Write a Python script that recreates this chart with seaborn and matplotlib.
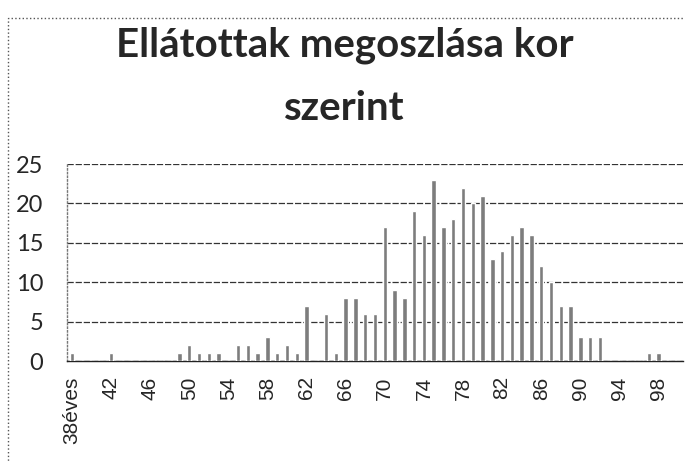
import matplotlib
matplotlib.use("Agg")
import matplotlib.pyplot as plt
import seaborn as sns
import pandas as pd
import numpy as np
from matplotlib.patches import Rectangle

# ---- data ----
ages = ["38éves"] + [str(a) for a in range(39, 101)]
counts = [1, 0, 0, 0, 1, 0, 0, 0, 0, 0,      # 38-47
          0, 1, 2, 1, 1, 1, 0, 2, 2, 1,      # 48-57
          3, 1, 2, 1, 7, 0, 6, 1, 8, 8,      # 58-67
          6, 6, 17, 9, 8, 19, 16, 23, 17, 18,  # 68-77
          22, 20, 21, 13, 14, 16, 17, 16, 12, 10,  # 78-87
          7, 7, 3, 3, 3, 0, 0, 0, 0, 1,      # 88-97
          1, 0, 0]                           # 98-100
yticks = [0, 5, 10, 15, 20, 25]
title = "Ellátottak megoszlása kor\nszerint"

df = pd.DataFrame({"kor": ages, "fo": counts})

sns.set_style("white")
plt.rcParams["font.family"] = ["Lato", "DejaVu Sans"]

fig = plt.figure(figsize=(6.85, 4.63), dpi=100)
ax = fig.add_axes([67 / 685, 1 - 361 / 463, 616 / 685, (361 - 164) / 463])

sns.barplot(data=df, x="kor", y="fo", order=ages, color="#7d7d7d",
            width=0.45, saturation=1, ax=ax, zorder=3)

ax.set_ylim(0, 25)
ax.set_xlim(-0.5, len(ages) - 0.5)
ax.set_yticks(yticks)
ax.set_yticklabels([str(v) for v in yticks], fontsize=17, family=["Lato", "DejaVu Sans"])
ax.yaxis.grid(True, color="#333333", linewidth=0.9, linestyle=(0, (5, 1.5)), zorder=0)
ax.set_axisbelow(True)

pos = list(range(0, len(ages), 4))
ax.set_xticks(pos)
ax.set_xticklabels([ages[i] for i in pos], rotation=90, fontsize=15,
                   family=["Liberation Sans", "DejaVu Sans"], va="top")
ax.tick_params(axis="x", length=0, pad=11)
ax.set_xticks(np.arange(-0.5, len(ages), 1), minor=True)
ax.tick_params(axis="x", which="minor", length=5, width=0.6, color="#555555", direction="out")
ax.tick_params(axis="y", length=0, pad=17)

ax.set_xlabel("")
ax.set_ylabel("")
for s in ["top", "right"]:
    ax.spines[s].set_visible(False)
ax.spines["left"].set_color("#777777")
ax.spines["left"].set_linestyle(":")
ax.spines["left"].set_linewidth(1.0)
ax.spines["bottom"].set_color("#222222")
ax.spines["bottom"].set_linewidth(1.0)

fig.text(0.503, 1 - 77 / 463, title, ha="center", va="center", fontsize=29,
         fontweight="bold", linespacing=1.85, family=["Lato", "DejaVu Sans"])

# chart frame (scanned border)
fig.patches.append(Rectangle((8 / 685, -0.05), 1.2, 1 - 18 / 463 + 0.05,
                             transform=fig.transFigure, fill=False,
                             edgecolor="#555555", linestyle=":", linewidth=1.0))

fig.savefig("out.png", dpi=100)
